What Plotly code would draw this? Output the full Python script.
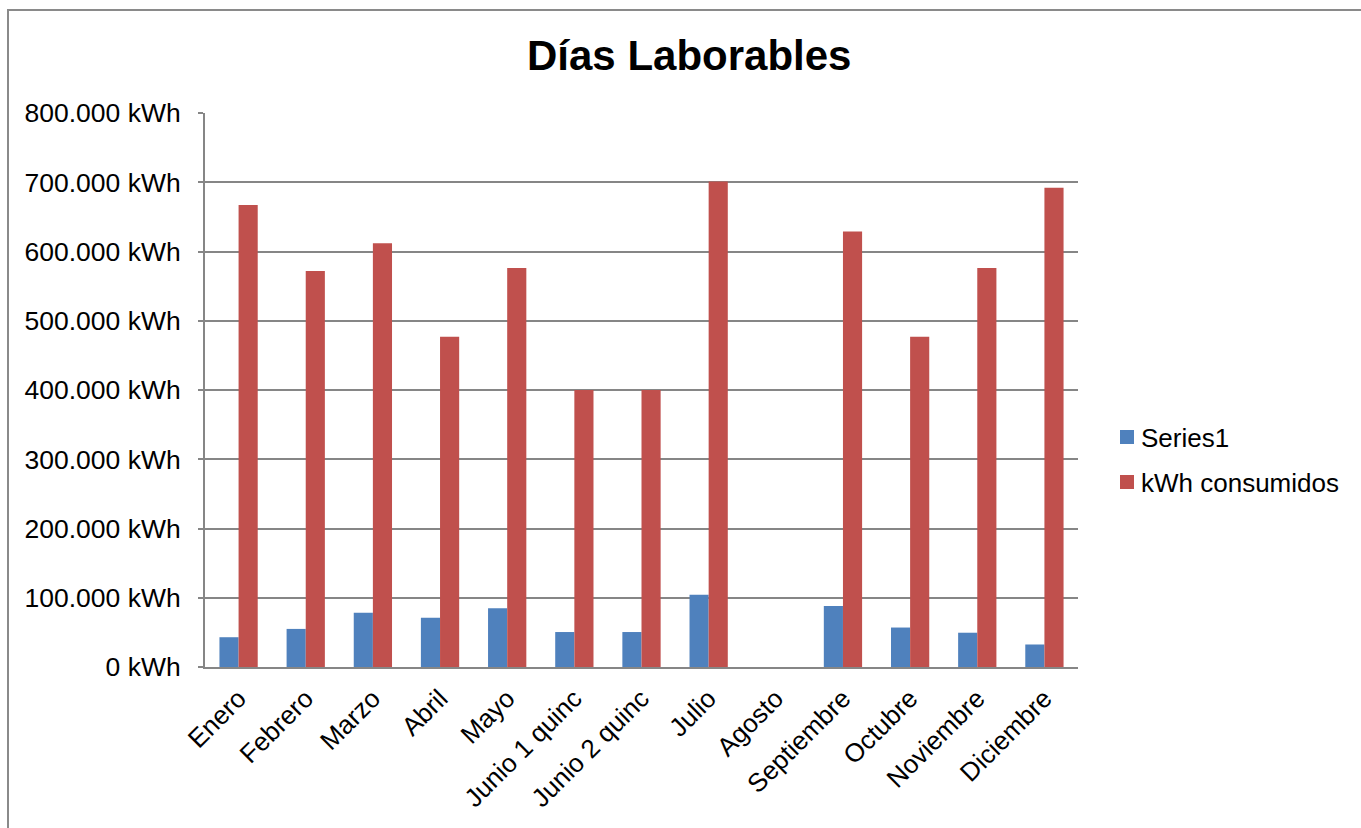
import plotly.graph_objects as go

# Monthly data (working days)
meses = ["Enero", "Febrero", "Marzo", "Abril", "Mayo", "Junio 1 quinc",
         "Junio 2 quinc", "Julio", "Agosto", "Septiembre", "Octubre",
         "Noviembre", "Diciembre"]
series1 = [43000, 55000, 78500, 71000, 85000, 50500, 50500, 104500, 0,
           88000, 57000, 49500, 32500]
kwh_consumidos = [667000, 572000, 612000, 477000, 576000, 400000, 400000,
                  701000, 0, 629000, 477000, 576000, 692000]

tick_vals = [0, 100000, 200000, 300000, 400000, 500000, 600000, 700000, 800000]
tick_text = ["0 kWh", "100.000 kWh", "200.000 kWh", "300.000 kWh", "400.000 kWh",
             "500.000 kWh", "600.000 kWh", "700.000 kWh", "800.000 kWh"]

series_names = ["Series1", "kWh consumidos"]
series_colors = ["#4F81BD", "#C0504D"]

FONT = "Arial, 'Liberation Sans', sans-serif"
W, H = 1361, 828
L, R, T, B = 205, 283, 113, 161
pw, ph = W - L - R, H - T - B

def px_x(x):
    return (x - L) / pw

def px_y(y):
    return (H - B - y) / ph

fig = go.Figure()
for name, vals, color in zip(series_names, [series1, kwh_consumidos], series_colors):
    fig.add_trace(go.Bar(x=meses, y=vals, name=name, showlegend=False,
                         marker=dict(color=color, line=dict(width=0))))

# Legend drawn as swatches + labels to the right of the plot area
shapes = [dict(type="rect", xref="paper", yref="paper",
               x0=px_x(8), y0=px_y(H + 50), x1=px_x(W + 50), y1=px_y(10),
               line=dict(color="#8a8a8a", width=2), fillcolor="rgba(0,0,0,0)",
               layer="below")]
annotations = [dict(text="<b>Días Laborables</b>", x=px_x(689), y=px_y(55),
                    xref="paper", yref="paper", showarrow=False,
                    xanchor="center", yanchor="middle",
                    font=dict(size=42, family=FONT, color="black"))]
for i, (name, color) in enumerate(zip(series_names, series_colors)):
    cy = 437 + 45 * i
    shapes.append(dict(type="rect", xref="paper", yref="paper",
                       x0=px_x(1120), x1=px_x(1134), y0=px_y(cy + 7), y1=px_y(cy - 7),
                       line=dict(width=0), fillcolor=color))
    annotations.append(dict(text=name, x=px_x(1139), y=px_y(cy + 1),
                            xref="paper", yref="paper", showarrow=False,
                            xanchor="left", yanchor="middle",
                            font=dict(size=26, family=FONT, color="black")))

fig.update_layout(
    width=W, height=H,
    margin=dict(l=L, r=R, t=T, b=B),
    paper_bgcolor="white", plot_bgcolor="white",
    barmode="group", bargap=0.43, bargroupgap=0,
    font=dict(family=FONT, size=26, color="black"),
    showlegend=False,
    xaxis=dict(tickangle=-45, showgrid=False, ticks="",
               showline=True, linecolor="#868686", linewidth=2,
               tickfont=dict(size=26), ticklabelstandoff=4),
    yaxis=dict(range=[0, 800000], tickvals=tick_vals, ticktext=tick_text,
               showgrid=True, gridcolor="#868686", gridwidth=2,
               showline=True, linecolor="#868686", linewidth=2,
               ticks="outside", ticklen=5, tickcolor="#868686", tickwidth=2,
               zeroline=False, tickfont=dict(size=26.5), ticklabelstandoff=12),
    annotations=annotations,
    shapes=shapes,
)

fig.write_html("out.html")
